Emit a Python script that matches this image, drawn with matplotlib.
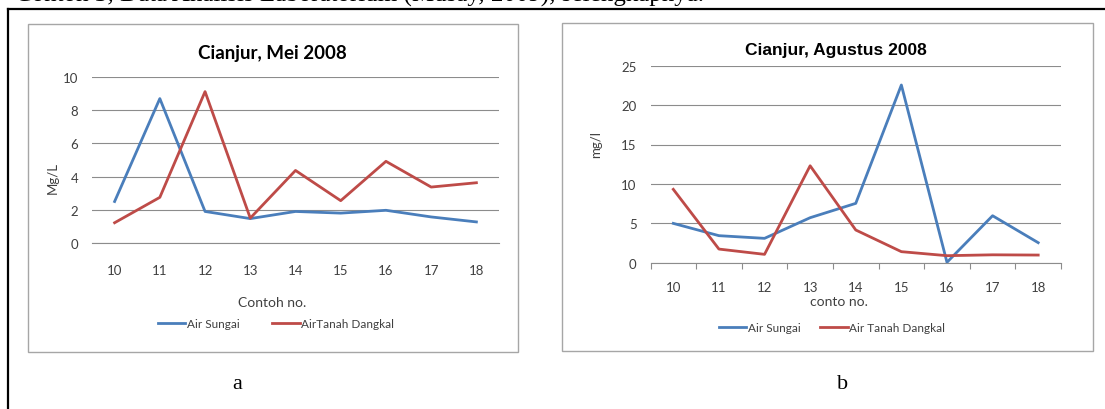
import matplotlib

matplotlib.use("Agg")
import matplotlib.pyplot as plt
from matplotlib.lines import Line2D
from matplotlib.patches import Rectangle
import numpy as np

W, H = 1105, 410

samples = [10, 11, 12, 13, 14, 15, 16, 17, 18]

# Cianjur, Mei 2008 (Mg/L)
mei_sungai = [2.5, 8.7, 1.9, 1.47, 1.9, 1.8, 1.97, 1.57, 1.27]
mei_tanah = [1.22, 2.75, 9.12, 1.5, 4.37, 2.55, 4.92, 3.37, 3.63]

# Cianjur, Agustus 2008 (mg/l)
agu_sungai = [4.99, 3.43, 3.09, 5.71, 7.53, 22.55, 0.05, 5.96, 2.54]
agu_tanah = [9.31, 1.73, 1.06, 12.3, 4.15, 1.4, 0.89, 1.0, 0.97]

BLUE = "#4a7ebb"
RED = "#be4b48"
GRID = "#8c8c8c"
BOX = "#a6a6a6"
TXT = "#404040"
SANS = "Lato"


def fx(x):
    return x / W


def fy(y):
    return 1 - y / H


def add_ax(fig, left, top, right, bottom):
    return fig.add_axes([fx(left), fy(bottom), (right - left) / W, (bottom - top) / H])


def style_ax(ax, ymax, ystep, ticks_out):
    ax.set_xlim(9.5, 18.5)
    ax.set_ylim(0, ymax)
    ax.set_yticks(np.arange(0, ymax + 0.1, ystep))
    ax.set_xticks(samples)
    ax.grid(axis="y", color=GRID, linewidth=0.8)
    ax.set_axisbelow(True)
    for side in ("top", "right", "left"):
        ax.spines[side].set_visible(False)
    ax.spines["bottom"].set_color(GRID)
    ax.spines["bottom"].set_linewidth(0.8)
    ax.tick_params(axis="y", length=0, pad=10, labelsize=9.5, labelcolor=TXT)
    for lab in ax.get_yticklabels() + ax.get_xticklabels():
        lab.set_family(SANS)
    if ticks_out:
        ax.set_xticks(np.arange(9.5, 18.6, 1), minor=True)
        ax.tick_params(axis="x", which="minor", length=4, width=0.8, color=GRID, direction="out")
        ax.tick_params(axis="x", which="major", length=0, pad=13, labelsize=9.5, labelcolor=TXT)
    else:
        ax.tick_params(axis="x", length=0, pad=15, labelsize=9.5, labelcolor=TXT)
    ax.patch.set_alpha(0)


fig = plt.figure(figsize=(W / 100, H / 100), dpi=100)

# outer frame and the caption line above it, cut off by the top edge
fig.add_artist(Line2D([fx(8), fx(8)], [fy(10), fy(H + 5)], color="black", lw=1.6))
fig.add_artist(Line2D([fx(8), fx(W + 5)], [fy(10), fy(10)], color="black", lw=1.6))
fig.text(fx(15), fy(2), "Contoh 3, Data Analisis Laboratorium (Musay, 2009), selengkapnya.",
         family="Liberation Serif", fontsize=18, va="baseline", ha="left")

# panel boxes
fig.add_artist(Rectangle((fx(28), fy(353)), (518 - 28) / W, (353 - 25) / H,
                         transform=fig.transFigure, fill=False, edgecolor=BOX, lw=1.0))
fig.add_artist(Rectangle((fx(562), fy(352)), (1093 - 562) / W, (352 - 24) / H,
                         transform=fig.transFigure, fill=False, edgecolor=BOX, lw=1.0))

# panel a
ax1 = add_ax(fig, 92, 78, 499, 244)
style_ax(ax1, 10, 2, ticks_out=False)
ax1.plot(samples, mei_sungai, color=BLUE, lw=2.0, label="Air Sungai")
ax1.plot(samples, mei_tanah, color=RED, lw=2.0, label="AirTanah Dangkal")
fig.text(fx(272), fy(54), "Cianjur, Mei 2008", family=SANS, weight="bold",
         fontsize=13.5, ha="center", va="center")
fig.text(fx(53), fy(178), "Mg/L", family=SANS, fontsize=9.5, color=TXT,
         rotation=90, ha="center", va="center")
fig.text(fx(272), fy(303), "Contoh no.", family=SANS, fontsize=10, color=TXT,
         ha="center", va="center")
ax1.legend(loc="center", bbox_to_anchor=(fx(276), fy(325)), bbox_transform=fig.transFigure,
           ncol=2, frameon=False, handlelength=2.3, handletextpad=0.15, columnspacing=2.8,
           prop={"family": SANS, "size": 8.5}, labelcolor=TXT)

# panel b
ax2 = add_ax(fig, 650.5, 66.7, 1061, 263.7)
style_ax(ax2, 25, 5, ticks_out=True)
ax2.plot(samples, agu_sungai, color=BLUE, lw=2.0, label="Air Sungai")
ax2.plot(samples, agu_tanah, color=RED, lw=2.0, label="Air Tanah Dangkal")
fig.text(fx(836), fy(50), "Cianjur, Agustus 2008", family="Liberation Sans", weight="bold",
         fontsize=12.5, ha="center", va="center")
fig.text(fx(596), fy(145), "mg/l", family=SANS, fontsize=9.5, color=TXT,
         rotation=90, ha="center", va="center")
fig.text(fx(839), fy(302), "conto no.", family=SANS, fontsize=10, color=TXT,
         ha="center", va="center")
ax2.legend(loc="center", bbox_to_anchor=(fx(832), fy(329)), bbox_transform=fig.transFigure,
           ncol=2, frameon=False, handlelength=2.3, handletextpad=0.15, columnspacing=1.7,
           prop={"family": SANS, "size": 8.5}, labelcolor=TXT)

# captions
fig.text(fx(237), fy(385), "a", family="Liberation Serif", fontsize=16, ha="center", va="center")
fig.text(fx(843), fy(385), "b", family="Liberation Serif", fontsize=16, ha="center", va="center")

fig.savefig("out.png", dpi=100)
